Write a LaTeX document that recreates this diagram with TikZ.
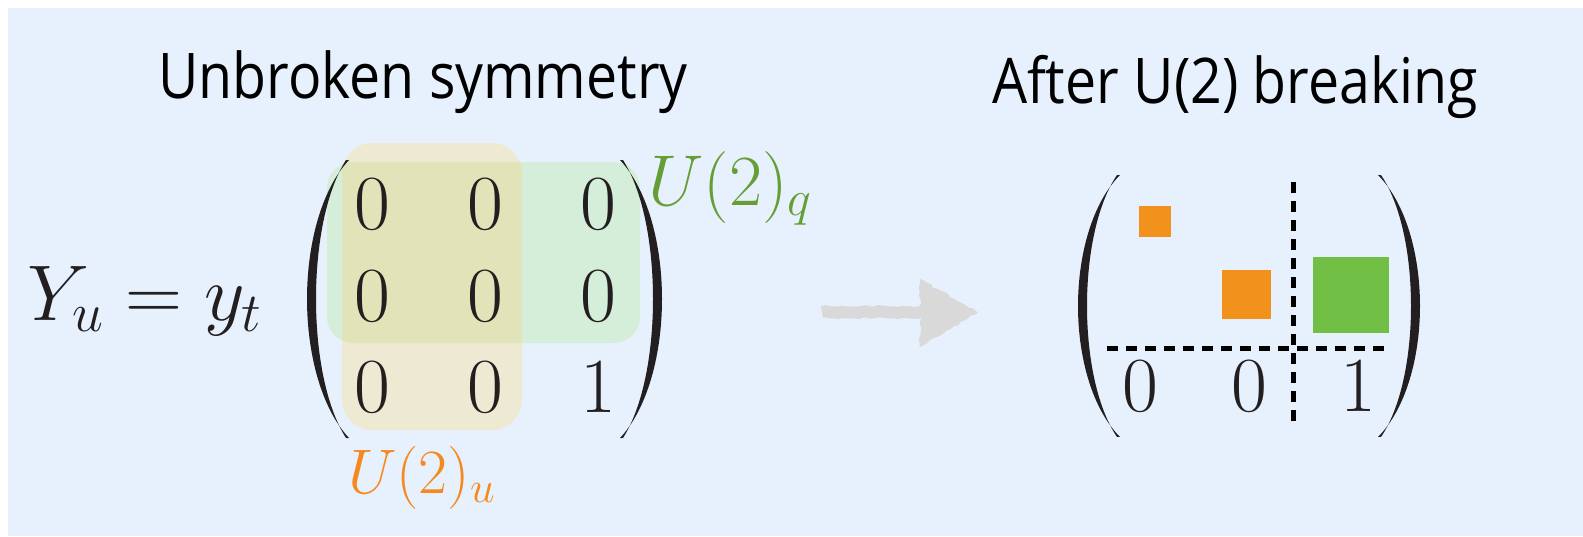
\RequirePackage{fix-cm}
\documentclass[tikz,border=0pt]{standalone}
\usepackage{fontspec}
\usetikzlibrary{decorations.pathmorphing}
\newfontfamily\titlefont[FakeStretch=0.88]{Open Sans}
\definecolor{bgblue}{HTML}{E7F1FD}
\definecolor{tanbox}{HTML}{EEE9D3}
\definecolor{greenbox}{HTML}{D4EED9}
\definecolor{overlapbox}{HTML}{E1E4B9}
\definecolor{qgreen}{HTML}{659E35}
\definecolor{uorange}{HTML}{F5891F}
\definecolor{sqorange}{HTML}{F2911C}
\definecolor{sqgreen}{HTML}{71BF44}
\definecolor{arrowgray}{HTML}{D9D9D9}
\definecolor{inkblack}{HTML}{231F20}
% big parenthesis, local coords: top at (0,0), height 278, bulge at x=0
\newcommand\bigparenpath{(42,0) .. controls (14,30) and (0,85) .. (0,139) .. controls (0,193) and (14,248) .. (42,278) -- (39,278) .. controls (18,245) and (9,190) .. (9,139) .. controls (9,88) and (18,33) .. (39,0) -- cycle}
\begin{document}
\begin{tikzpicture}[x=1pt,y=-1pt,
  entry/.style={inner sep=0pt, anchor=base, text=inkblack, font=\fontsize{78}{94}\selectfont},
  title/.style={inner sep=0pt, anchor=base, font=\titlefont\fontsize{63}{76}\selectfont},
  dashline/.style={line width=5pt, dash pattern=on 11pt off 8pt, color=black},
  lbl/.style={inner sep=0pt, anchor=base west},
  parenfill/.style={fill=inkblack}
]
\useasboundingbox (0,0) rectangle (1583,536);
\fill[bgblue] (8,8) rectangle (1583,536);
% titles
\node[title] (t1) at (423,98) {Unbroken symmetry};
\node[title] (t2) at (1235,103) {After U(2) breaking};
% highlight boxes
\fill[greenbox, rounded corners=26pt] (327,162) rectangle (640,343);
\fill[tanbox, rounded corners=30pt] (342,143) rectangle (522,430);
\begin{scope}
  \clip[rounded corners=26pt] (327,162) rectangle (640,343);
  \fill[overlapbox, rounded corners=30pt] (342,143) rectangle (522,430);
\end{scope}
% left side
\node[lbl, text=inkblack, font=\fontsize{79}{94}\selectfont] (Y) at (27,320) {$Y_u = y_t$};
\begin{scope}[shift={(307,160)}]
  \fill[parenfill] \bigparenpath;
\end{scope}
\begin{scope}[shift={(662,160)}, xscale=-1]
  \fill[parenfill] \bigparenpath;
\end{scope}
\node[entry] (a11) at (372,229) {$0$};
\node[entry] (a12) at (485,229) {$0$};
\node[entry] (a13) at (598,229) {$0$};
\node[entry] (a21) at (372,321) {$0$};
\node[entry] (a22) at (485,321) {$0$};
\node[entry] (a23) at (598,321) {$0$};
\node[entry] (a31) at (372,412) {$0$};
\node[entry] (a32) at (485,412) {$0$};
\node[entry] (a33) at (598,412) {$1$};
\node[lbl, text=qgreen, font=\fontsize{72}{86}\selectfont] (Uq) at (648,205) {$U(2)_q$};
\node[lbl, text=uorange, font=\fontsize{63}{76}\selectfont] (Uu) at (348,493) {$U(2)_u$};
% arrow
\coordinate (arrS) at (822,312);
\coordinate (arrE) at (925,312);
\coordinate (arrT) at (978,312);
\draw[arrowgray, line width=12pt, decorate, decoration={random steps, segment length=4pt, amplitude=1pt}] (arrS) -- (arrE);
\fill[arrowgray, decorate, decoration={random steps, segment length=4pt, amplitude=1.2pt}] (920,279) -- (arrT) -- (920,347) -- cycle;
% right side
\begin{scope}[shift={(1078,175)}, yscale=0.9424]
  \fill[parenfill] \bigparenpath;
\end{scope}
\begin{scope}[shift={(1420,175)}, xscale=-1, yscale=0.9424]
  \fill[parenfill] \bigparenpath;
\end{scope}
\fill[sqorange] (1139,206) rectangle (1171,237);
\fill[sqorange] (1222,270) rectangle (1271,319);
\fill[sqgreen] (1313,257) rectangle (1389,333);
\coordinate (hS) at (1107,348);
\coordinate (hE) at (1390,348);
\coordinate (vS) at (1293,182);
\coordinate (vE) at (1293,427);
\draw[dashline] (hS) -- (hE);
\draw[dashline] (vS) -- (vE);
\node[entry] (b1) at (1140,411) {$0$};
\node[entry] (b2) at (1249,411) {$0$};
\node[entry] (b3) at (1358,411) {$1$};
\end{tikzpicture}
\end{document}
